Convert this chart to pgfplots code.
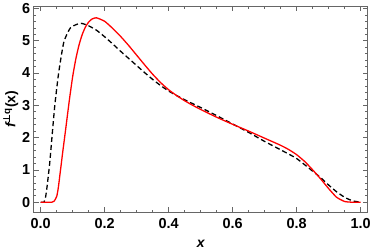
\documentclass[border=0pt]{standalone}
\usepackage{fontspec}
\setmainfont{Liberation Sans}
\newfontfamily\dejavu{DejaVu Sans}
\usepackage{pgfplots}
\pgfplotsset{compat=1.18}
\begin{document}
\begin{tikzpicture}
\begin{axis}[
  scale only axis,
  width=334bp, height=206bp,
  xmin=-0.022, xmax=1.022,
  ymin=-0.31, ymax=6.07,
  xtick={0,0.2,0.4,0.6,0.8,1.0},
  xticklabels={0.0,0.2,0.4,0.6,0.8,1.0},
  ytick={0,1,2,3,4,5,6},
  minor x tick num=3,
  minor y tick num=4,
  tick align=inside,
  major tick length=5bp,
  minor tick length=2.5bp,
  axis line style={draw=black!60, line width=0.8pt},
  every tick/.style={black!60, line width=0.5pt},
  tick label style={font=\fontsize{14.5}{16}\selectfont\bfseries, black},
  xticklabel style={yshift=-3bp},
  /pgf/number format/assume math mode=true,
  xlabel={\fontsize{14}{16}\selectfont\bfseries\itshape x},
  ylabel={\fontsize{14}{16}\selectfont\bfseries\itshape f\textsuperscript{\upshape{\dejavu\bfseries ⊥}q}\upshape (x)},
  xlabel style={yshift=-4bp},
  ylabel style={yshift=-3bp},
  clip=true,
]
\addplot[black, line width=1.3pt, dash pattern=on 5bp off 3bp, smooth, tension=0.35] coordinates {
(0,0) (0.01,0) (0.015,0.15) (0.02,0.5) (0.028,1.2) (0.035,2.0) (0.044,3.0)
(0.056,4.0) (0.072,4.95) (0.093,5.4) (0.124,5.54) (0.15,5.46) (0.175,5.32)
(0.2,5.12) (0.225,4.90) (0.25,4.67) (0.275,4.45) (0.3,4.23) (0.325,4.01)
(0.35,3.80) (0.375,3.61) (0.4,3.44) (0.425,3.30) (0.45,3.17) (0.475,3.05)
(0.5,2.93) (0.55,2.68) (0.6,2.42) (0.65,2.16) (0.7,1.88) (0.75,1.62)
(0.8,1.35) (0.85,0.96) (0.875,0.76) (0.9,0.53) (0.925,0.32) (0.95,0.15)
(0.975,0.04) (1.0,0)
};
\addplot[red, line width=1.3pt, smooth, tension=0.35] coordinates {
(0,0) (0.035,0) (0.042,0.03) (0.05,0.18) (0.055,0.45) (0.06,0.85) (0.065,1.25)
(0.07,1.65) (0.075,2.03) (0.08,2.42) (0.09,3.2) (0.1,3.9) (0.11,4.45)
(0.12,4.88) (0.13,5.2) (0.14,5.43) (0.15,5.58) (0.16,5.67) (0.174,5.71)
(0.2,5.60) (0.225,5.38) (0.25,5.13) (0.275,4.85) (0.3,4.55) (0.325,4.25)
(0.35,3.96) (0.375,3.70) (0.4,3.48) (0.425,3.30) (0.45,3.14) (0.475,3.00)
(0.5,2.87) (0.55,2.63) (0.6,2.41) (0.65,2.20) (0.7,1.98) (0.75,1.76)
(0.775,1.63) (0.8,1.47) (0.825,1.26) (0.85,1.00) (0.875,0.72) (0.9,0.42)
(0.925,0.15) (0.95,0.02) (0.97,0) (1.0,0)
};
\end{axis}
\end{tikzpicture}
\end{document}
